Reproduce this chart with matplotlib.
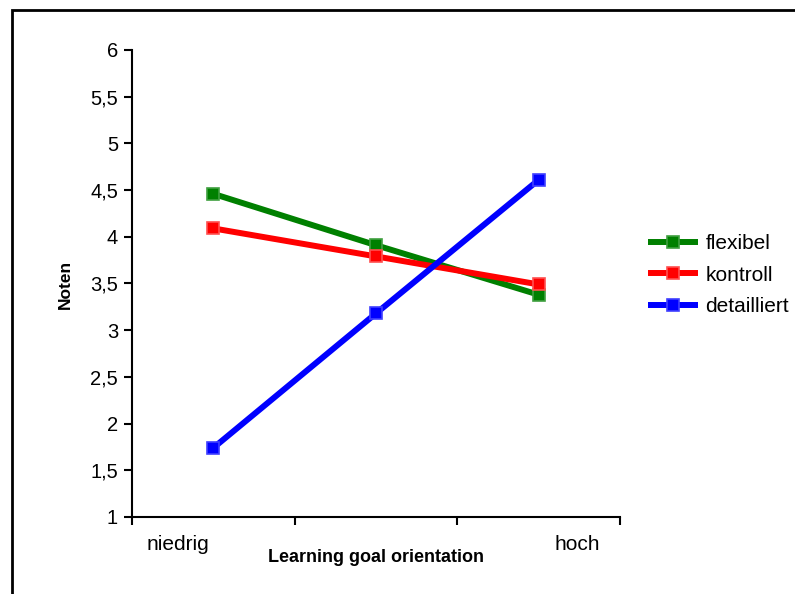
import matplotlib
matplotlib.use("Agg")
import matplotlib.pyplot as plt
from matplotlib.patches import Rectangle
from matplotlib.ticker import FuncFormatter

plt.rcParams['font.family'] = ['Liberation Sans', 'DejaVu Sans']

# Data
categories = ["niedrig", "mittel", "hoch"]
tick_names = ["niedrig", "hoch"]
series_names = ["flexibel", "kontroll", "detailliert"]
flexibel = [4.46, 3.91, 3.38]
kontroll = [4.09, 3.79, 3.49]
detailliert = [1.74, 3.18, 4.61]
colors = ["#008000", "#ff0000", "#0000ff"]
edge_colors = ["#40a040", "#ff5050", "#4040ff"]

fig = plt.figure(figsize=(7.95, 5.94), dpi=100)
ax = fig.add_axes([132/795, 1-517/594, (620-132)/795, (517-50)/594])

x = list(range(len(categories)))
for vals, name, c, ec in zip([flexibel, kontroll, detailliert], series_names, colors, edge_colors):
    ax.plot(x, vals, color=c, lw=4.3, marker='s', ms=9, mfc=c, mec=ec, mew=1.2,
            label=name, solid_capstyle='butt')

ax.set_xlim(-0.5, 2.5)
ax.set_ylim(1, 6)
ax.set_yticks([1 + 0.5*i for i in range(11)])
ax.yaxis.set_major_formatter(FuncFormatter(lambda v, p: f"{v:g}".replace('.', ',')))
ax.set_xticks([-0.5, 0.5, 1.5, 2.5])
ax.set_xticklabels([])

for s in ['top', 'right']:
    ax.spines[s].set_visible(False)
for s in ['left', 'bottom']:
    ax.spines[s].set_linewidth(1.5)
ax.tick_params(axis='both', direction='out', length=6, width=1.5, labelsize=14.5, pad=4)

# Category labels at the ends of the axis
narrow = ['Liberation Sans Narrow', 'Liberation Sans', 'DejaVu Sans']
fig.text(178/795, 1-543/594, tick_names[0], fontsize=15,
         family=narrow, ha='center', va='center_baseline')
fig.text(577/795, 1-543/594, tick_names[1], fontsize=15,
         family=narrow, ha='center', va='center_baseline')

fig.text(376/795, 1-557/594, "Learning goal orientation", fontsize=13, fontweight='bold',
         family=narrow, ha='center', va='center')
fig.text(65/795, 1-284/594, "Noten", fontsize=12.5, fontweight='bold', rotation=90,
         ha='center', va='center')

leg = ax.legend(loc='center left', bbox_to_anchor=(640/795, 1-275/594),
                bbox_transform=fig.transFigure, frameon=False, fontsize=15,
                handlelength=2.4, handletextpad=0.35, labelspacing=0.6, borderaxespad=0)

# Outer frame of the figure
fig.patches.append(Rectangle((12/795, -0.2), 1.5, 1.2 - 10/594, transform=fig.transFigure,
                             fill=False, ec='black', lw=2, zorder=10))

fig.savefig("out.png", dpi=100)
